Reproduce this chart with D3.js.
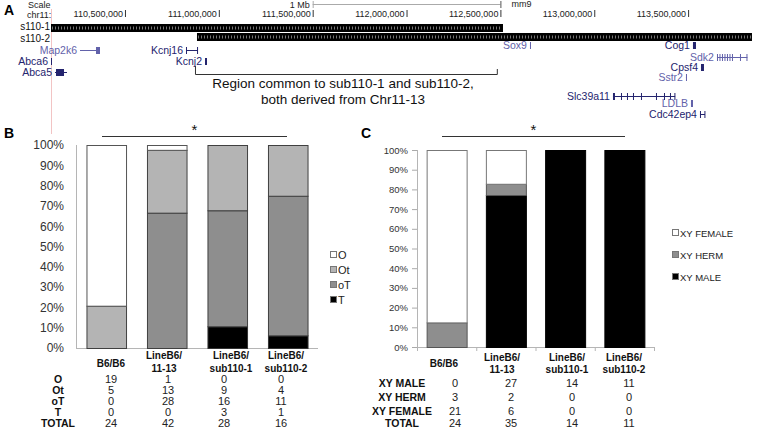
<!DOCTYPE html>
<html><head><meta charset="utf-8">
<script src="https://cdn.jsdelivr.net/npm/d3@7"></script>
<style>body{margin:0;background:#fff}svg{display:block;font-family:Arial,"Liberation Sans",sans-serif}</style>
</head><body><svg id="c" width="757" height="429"></svg>
<script>
// ---------------- DATA ----------------
const categories = ["B6/B6", "LineB6/\n11-13", "LineB6/\nsub110-1", "LineB6/\nsub110-2"];
// Panel B: gonad phenotype counts
const countO  = [19, 1, 0, 0];
const countOt = [5, 13, 9, 4];
const countoT = [0, 28, 16, 11];
const countT  = [0, 0, 3, 1];
const totalB  = [24, 42, 28, 16];
// Panel C: sex phenotype counts
const xyMale   = [0, 27, 14, 11];
const xyHerm   = [3, 2, 0, 0];
const xyFemale = [21, 6, 0, 0];
const totalC   = [24, 35, 14, 11];
const pctTicks = [0, .1, .2, .3, .4, .5, .6, .7, .8, .9, 1];
// Panel A: genome browser (chr11, mm9)
const viewRange = [110106000, 113867000];
const chrTicks = [110500000, 111000000, 111500000, 112000000, 112500000, 113000000, 113500000];
const scaleBar = [111500000, 112500000];
const deletionNames = ["s110-1", "s110-2"];
const deletionStart = [110106000, 110883700];
const deletionEnd   = [112513800, 113840200];
const commonRegion  = [110873000, 112481000];
const geneNames = ["Map2k6","Abca6","Abca5","Kcnj16","Kcnj2","Sox9","Cog1","Sdk2","Cpsf4","Sstr2","Slc39a11","LDLB","Cdc42ep4"];
const geneStart = [110260500,110106000,110127300,110825100,110926400,112657600,113525900,113653800,113568600,113488600,113099800,113515300,113563200];
const geneEnd   = [110367000,110111000,110191200,110889000,110937000,112662900,113541900,113816000,113584500,113493000,113431000,113526000,113589900];
const geneExons = [
  [[110345700,110367000]],
  [[110106000,110111000]],
  [[110132600,110175300]],
  [[110825100,110828000],[110884000,110889000]],
  [[110926400,110937000]],
  [[112657600,112662900]],
  [[113525900,113541900]],
  [[113653800,113658800],[113667100,113672100],[113680400,113685400],[113693700,113698700],[113707000,113712000],[113720400,113725400],[113733700,113738700],[113776300,113781300],[113810900,113815900]],
  [[113568600,113584500]],
  [[113488600,113493000]],
  [[113099800,113110400],[113142400,113145400],[113174300,113177300],[113206300,113209300],[113248900,113251900],[113328800,113331800],[113371500,113374500],[113403400,113406400],[113427000,113431000]],
  [[113515300,113526000]],
  [[113563200,113566200],[113586900,113589900]]
];
const geneShade = ["light","dark","dark","dark","dark","light","dark","light","dark","light","dark","light","dark"];
const regionText = ["Region common to sub110-1 and sub110-2,", "both derived from Chr11-13"];
const rowLabelsB = ["O", "Ot", "oT", "T", "TOTAL"];
const rowLabelsC = ["XY MALE", "XY HERM", "XY FEMALE", "TOTAL"];

// ---------------- DRAW ----------------
const svg = d3.select("#c");
const fmtPos = d3.format(",");
const fmtPct = d3.format(".0%");

// ===== Panel A =====
const xG = d3.scaleLinear().domain(viewRange).range([51, 757]);
const A = svg.append("g");
A.append("text").attr("x", 4).attr("y", 15).attr("font-size", 14).attr("font-weight", "bold").text("A");
A.append("line").attr("x1", 51.5).attr("x2", 51.5).attr("y1", 9).attr("y2", 134).attr("stroke", "#f2c4c4").attr("stroke-width", 1);
A.append("text").attr("x", 28).attr("y", 8).attr("font-size", 9).attr("fill", "#222").text("Scale");
A.append("text").attr("x", 27).attr("y", 18).attr("font-size", 9).attr("fill", "#222").text("chr11:");
// scale bar
A.append("line").attr("x1", xG(scaleBar[0])).attr("x2", xG(scaleBar[1])).attr("y1", 4.5).attr("y2", 4.5).attr("stroke", "#aaa");
[0, 1].forEach(i => A.append("line").attr("x1", xG(scaleBar[i]) + .5).attr("x2", xG(scaleBar[i]) + .5).attr("y1", 1).attr("y2", 8).attr("stroke", i ? "#555" : "#aaa"));
A.append("text").attr("x", xG(scaleBar[0]) - 3).attr("y", 8).attr("font-size", 9).attr("text-anchor", "end").attr("fill", "#222").text("1 Mb");
A.append("text").attr("x", xG(scaleBar[1]) + 11).attr("y", 7).attr("font-size", 9).attr("fill", "#222").text("mm9");
// chrom ticks
chrTicks.forEach(t => {
  A.append("line").attr("x1", xG(t) + .5).attr("x2", xG(t) + .5).attr("y1", 10).attr("y2", 17).attr("stroke", "#333");
  A.append("text").attr("x", xG(t) - 2).attr("y", 17).attr("font-size", 9).attr("text-anchor", "end").attr("fill", "#222").text(fmtPos(t));
});
// deletion tracks
const delY = [24, 33];
const delLabelY = [30, 41.5];
deletionNames.forEach((n, i) => {
  A.append("rect").attr("x", xG(deletionStart[i])).attr("y", delY[i]).attr("width", xG(deletionEnd[i]) - xG(deletionStart[i])).attr("height", 8).attr("fill", "#000");
  A.append("line").attr("x1", xG(deletionStart[i]) + 1).attr("x2", xG(deletionEnd[i]) - 1).attr("y1", delY[i] + 4).attr("y2", delY[i] + 4)
    .attr("stroke", "#777").attr("stroke-width", 3).attr("stroke-dasharray", "1,2");
  A.append("text").attr("x", 50).attr("y", delLabelY[i]).attr("font-size", 10).attr("text-anchor", "end").attr("fill", "#111").text(n);
});
// genes
const geneY = [50, 61, 72, 50, 61, 45, 45, 57, 67, 77, 96, 103, 114];
const shadeCol = { dark: "#24246e", light: "#6262aa" };
geneNames.forEach((g, i) => {
  const col = shadeCol[geneShade[i]];
  const y = geneY[i];
  A.append("line").attr("x1", xG(geneStart[i])).attr("x2", xG(geneEnd[i])).attr("y1", y + .5).attr("y2", y + .5).attr("stroke", col).attr("stroke-width", 1);
  geneExons[i].forEach(e => {
    const w = Math.max(1, xG(e[1]) - xG(e[0]));
    A.append("rect").attr("x", xG(e[0])).attr("y", y - 3).attr("width", w).attr("height", 7).attr("fill", col);
  });
  A.append("text").attr("x", xG(geneStart[i]) - 3).attr("y", y + 4).attr("font-size", 10.5).attr("text-anchor", "end").attr("fill", col).text(g);
});
// bracket
const bx0 = xG(commonRegion[0]) + .5, bx1 = xG(commonRegion[1]) + .5;
A.append("path").attr("d", `M${bx0},66V74.5H${bx1}V69`).attr("fill", "none").attr("stroke", "#333");
regionText.forEach((t, i) => A.append("text").attr("x", 343).attr("y", 88 + i * 16).attr("font-size", 13.5).attr("text-anchor", "middle").attr("fill", "#111").text(t));

// ===== helper for stacked % chart =====
function stackedPanel(opt) {
  const g = svg.append("g");
  const y = d3.scaleLinear().domain([0, 1]).range(opt.yRange);
  const x = d3.scaleBand().domain(categories).range(opt.xRange).paddingInner(opt.pin).paddingOuter(opt.pin / 2);
  const rows = categories.map((c, i) => { const o = { cat: c }; opt.keys.forEach((k, j) => o[k] = opt.series[j][i]); return o; });
  const stacked = d3.stack().keys(opt.keys).offset(d3.stackOffsetExpand)(rows);
  // axis labels
  const ax = g.append("g").attr("transform", `translate(${opt.xRange[0]},0)`)
    .call(d3.axisLeft(y).tickValues(pctTicks).tickFormat(fmtPct).tickSize(opt.tickLen).tickPadding(opt.tickPad));
  ax.select(".domain").remove();
  ax.selectAll("line").attr("stroke", "#aaa");
  ax.selectAll("text").attr("font-size", opt.tickFont).attr("fill", "#333").attr("font-family", "Arial, 'Liberation Sans', sans-serif");
  // axis lines
  g.append("line").attr("x1", opt.xRange[0] + .5).attr("x2", opt.xRange[0] + .5).attr("y1", opt.yRange[1]).attr("y2", opt.yRange[0]).attr("stroke", "#b5b5b5");
  g.append("line").attr("x1", opt.xRange[0]).attr("x2", opt.xRange[1]).attr("y1", opt.yRange[0] + .5).attr("y2", opt.yRange[0] + .5).attr("stroke", "#b5b5b5");
  if (opt.catTicks) {
    const bounds = categories.map(c => x(c) - x.step() * x.paddingInner() / 2).concat([opt.xRange[1]]);
    bounds.forEach(b => g.append("line").attr("x1", b + .5).attr("x2", b + .5).attr("y1", opt.yRange[0]).attr("y2", opt.yRange[0] + 4).attr("stroke", "#b5b5b5"));
  }
  // bars
  stacked.forEach((s, j) => {
    g.selectAll(null).data(s.filter(d => d[1] - d[0] > 0)).join("rect")
      .attr("x", d => x(d.data.cat) + .5).attr("width", x.bandwidth())
      .attr("y", d => y(d[1]) + .5).attr("height", d => y(d[0]) - y(d[1]))
      .attr("fill", opt.colors[j]).attr("stroke", opt.stroke[j]).attr("stroke-width", 1);
  });
  // significance
  g.append("line").attr("x1", opt.sig[0]).attr("x2", opt.sig[1]).attr("y1", 136.5).attr("y2", 136.5).attr("stroke", "#333");
  g.append("text").attr("x", (opt.sig[0] + opt.sig[1]) / 2).attr("y", 135).attr("font-size", 15).attr("text-anchor", "middle").attr("fill", "#111").text("*");
  // legend
  opt.legendKeys.forEach((k, i) => {
    const ly = opt.legendY[0] + i * opt.legendY[1];
    g.append("rect").attr("x", opt.legendX + .5).attr("y", ly - 3.5).attr("width", 6).attr("height", 6)
      .attr("fill", opt.legendColors[i]).attr("stroke", "#777");
    g.append("text").attr("x", opt.legendX + 8).attr("y", ly + 4).attr("font-size", opt.legendFont).attr("fill", "#222").text(k);
  });
  // category labels
  categories.forEach((c, i) => {
    const lines = c.split("\n");
    lines.forEach((l, k) => {
      const yy = lines.length === 1 ? opt.catY1 : opt.catY2[k];
      g.append("text").attr("x", opt.labelX[i]).attr("y", yy).attr("font-size", 10).attr("font-weight", "bold").attr("text-anchor", "middle").attr("fill", "#111").text(l);
    });
  });
  // table
  opt.tableRows.forEach((r, ri) => {
    const yy = opt.rowY[ri] + 4;
    g.append("text").attr("x", opt.rowLabelX).attr("y", yy).attr("font-size", 10.5).attr("font-weight", "bold").attr("text-anchor", "middle").attr("fill", "#111").text(r);
    opt.tableVals[ri].forEach((v, i) => g.append("text").attr("x", opt.valueX[i]).attr("y", yy).attr("font-size", 11).attr("text-anchor", "middle").attr("fill", "#222").text(v));
  });
}

// ===== Panel B =====
svg.append("text").attr("x", 4).attr("y", 138).attr("font-size", 14).attr("font-weight", "bold").text("B");
stackedPanel({
  yRange: [348, 145], xRange: [76, 318], pin: 0.346, tickLen: 0, tickPad: 12, tickFont: 12,
  keys: ["T", "oT", "Ot", "O"], series: [countT, countoT, countOt, countO],
  colors: ["#000", "#8e8e8e", "#b4b4b4", "#fff"], stroke: ["#333", "#404040", "#404040", "#555"],
  sig: [102, 287],
  legendX: 330, legendY: [255, 15], legendFont: 11,
  legendKeys: ["O", "Ot", "oT", "T"], legendColors: ["#fff", "#b4b4b4", "#8e8e8e", "#000"],
  labelX: [111, 164, 231, 286], valueX: [111, 168, 224, 281],
  catY1: 367, catY2: [359, 372],
  tableRows: rowLabelsB, tableVals: [countO, countOt, countoT, countT, totalB],
  rowY: [379, 390, 401, 412, 423], rowLabelX: 58
});

// ===== Panel C =====
svg.append("text").attr("x", 361).attr("y", 138).attr("font-size", 14).attr("font-weight", "bold").text("C");
stackedPanel({
  yRange: [347, 150], xRange: [417, 654], pin: 0.325, tickLen: 5, tickPad: 4, tickFont: 9.5, catTicks: true,
  keys: ["male", "herm", "female"], series: [xyMale, xyHerm, xyFemale],
  colors: ["#000", "#8e8e8e", "#fff"], stroke: ["#000", "#555", "#777"],
  sig: [442, 625],
  legendX: 672, legendY: [233, 22], legendFont: 9.5,
  legendKeys: ["XY FEMALE", "XY HERM", "XY MALE"], legendColors: ["#fff", "#8e8e8e", "#000"],
  labelX: [444, 502, 567, 624], valueX: [455, 511, 572, 629],
  catY1: 367, catY2: [361, 373],
  tableRows: rowLabelsC, tableVals: [xyMale, xyHerm, xyFemale, totalC],
  rowY: [383, 397, 411, 423], rowLabelX: 402
});
</script></body></html>
